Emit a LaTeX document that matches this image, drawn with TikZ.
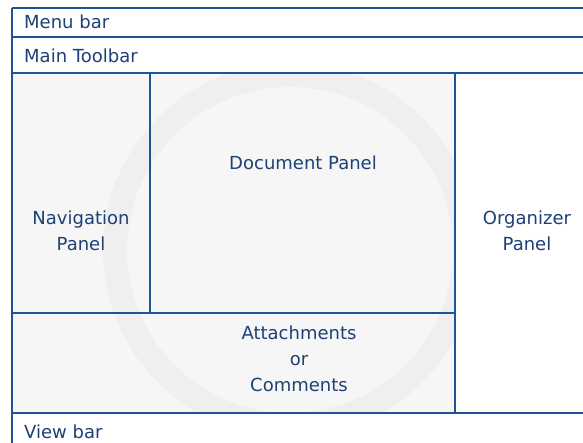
\documentclass[tikz,border=0pt]{standalone}
\usepackage{fontspec}
\setmainfont{DejaVu Sans}
\definecolor{linec}{HTML}{1F5592}
\definecolor{textc}{HTML}{1E4076}
\definecolor{wm}{HTML}{F6F6F6}
\definecolor{wm2}{HTML}{EFEFEF}
\begin{document}
\begin{tikzpicture}[x=1pt,y=-1pt,
  lbl/.style={text=textc,font=\fontsize{18}{26}\selectfont,inner sep=0pt,align=center},
  frame/.style={draw=linec,line width=2pt}]
\useasboundingbox (0,0) rectangle (583,443);
\fill[white] (0,0) rectangle (583,443);
% faint watermark
\fill[wm] (12,73) rectangle (455,413);
\draw[wm2,line width=24pt] (290,250) circle (175);
% coordinates
\coordinate (tl) at (12,8);
\coordinate (tr) at (583,8);
\coordinate (m1) at (12,37);
\coordinate (m2) at (583,37);
\coordinate (t1) at (12,73);
\coordinate (t2) at (583,73);
\coordinate (a1) at (12,313);
\coordinate (a2) at (455,313);
\coordinate (v1) at (12,413);
\coordinate (v2) at (583,413);
\coordinate (bl) at (12,443);
\coordinate (n1) at (150,73);
\coordinate (n2) at (150,313);
\coordinate (o1) at (455,73);
\coordinate (o2) at (455,413);
\fill[white] (12,8) rectangle (583,73);
\fill[white] (12,413) rectangle (583,443);
\fill[white] (455,73) rectangle (583,413);
\draw[frame] (tl) -- (tr);
\draw[frame] (m1) -- (m2);
\draw[frame] (t1) -- (t2);
\draw[frame] (a1) -- (a2);
\draw[frame] (v1) -- (v2);
\draw[frame] (tl) -- (bl);
\draw[frame] (n1) -- (n2);
\draw[frame] (o1) -- (o2);
% labels
\node[lbl,anchor=base west] (menu) at (24,29) {Menu bar};
\node[lbl,anchor=base west] (tool) at (24,63) {Main Toolbar};
\node[lbl] (doc) at (303,163) {Document Panel};
\node[lbl] (nav) at (81,231) {Navigation\\Panel};
\node[lbl] (org) at (527,231) {Organizer\\Panel};
\node[lbl] (att) at (299,359) {Attachments\\or\\Comments};
\node[lbl,anchor=base west] (view) at (24,438) {View bar};
\end{tikzpicture}
\end{document}
